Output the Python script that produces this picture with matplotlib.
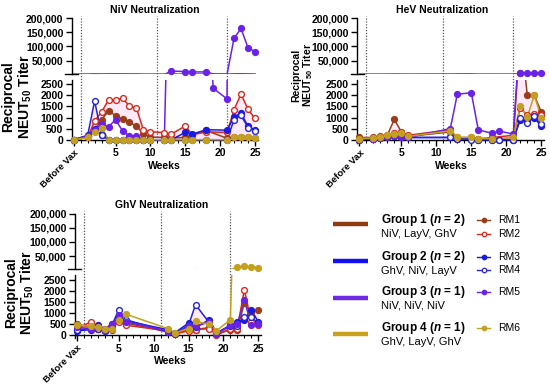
import numpy as np
import matplotlib
matplotlib.use('Agg')
import matplotlib.pyplot as plt
from matplotlib import transforms

plt.rcParams['font.family'] = ['Liberation Sans', 'DejaVu Sans']
plt.rcParams['mathtext.fontset'] = 'custom'
plt.rcParams['mathtext.rm'] = 'Liberation Sans'
plt.rcParams['mathtext.bf'] = 'Liberation Sans:bold'
plt.rcParams['mathtext.it'] = 'Liberation Sans:bold:italic'

nan = np.nan

# ---------------- data ----------------
weeks = [-1, 1, 2, 3, 4, 5, 6, 7, 8, 9, 10, 12, 13, 15, 16, 18, 19, 21, 22, 23, 24, 25]
vax_weeks = [0, 11, 21]
animals = ['RM1', 'RM2', 'RM3', 'RM4', 'RM5', 'RM6']

niv_rm1 = [0, 150, 450, 900, 1300, 1080, 930, 780, 620, 250, 120, 100, 80, 100, 230, 420, nan, 60, 100, 100, 100, 60]
niv_rm2 = [0, 100, 850, 1250, 1800, 1800, 1870, 1520, 1420, 440, 360, 320, 250, 620, 220, 350, nan, 330, 1350, 2060, 1370, 960]
niv_rm3 = [0, 150, 500, 220, 0, 0, 0, 0, 0, 0, 0, 0, 0, 330, 250, 450, nan, 430, 1030, 1200, 600, 450]
niv_rm4 = [0, 200, 1750, 200, 0, 0, 0, 0, 0, 0, 0, 0, 0, 0, 0, 0, nan, 0, 900, 1100, 550, 400]
niv_rm5 = [0, 150, 450, 700, 590, 900, 400, 170, 170, 0, 0, 0, 13000, 10500, 9500, 9500, 2320, 1840, 129000, 164000, 95600, 81500]
niv_rm6 = [0, 100, 350, 550, 0, 0, 0, 0, 0, 0, 0, 0, 0, 0, 0, 0, nan, 0, 100, 100, 100, 80]

hev_rm1 = [100, 100, 150, 200, 920, 350, 150, nan, nan, nan, nan, 350, 100, 100, 50, 50, nan, 0, 5000, 2000, 2000, 1250]
hev_rm2 = [50, 50, 100, 150, 300, 330, 200, nan, nan, nan, nan, 450, 50, 50, 30, 100, nan, 200, 1430, 1100, 1150, 1100]
hev_rm3 = [0, 50, 80, 100, 150, 100, 100, nan, nan, nan, nan, 100, 50, 50, 0, 0, 0, 0, 900, 900, 1000, 600]
hev_rm4 = [0, 50, 80, 100, 150, 120, 100, nan, nan, nan, nan, 100, 50, 0, 0, 0, 0, 0, 1000, 750, 1050, 700]
hev_rm5 = [0, 50, 60, 100, 150, 100, 100, nan, nan, nan, nan, 500, 2050, 2120, 440, 290, 390, 250, 5000, 5000, 5000, 4700]
hev_rm6 = [50, 80, 120, 200, 250, 300, 150, nan, nan, nan, nan, 400, 100, 100, 50, 50, nan, 100, 1520, 1040, 2000, 1000]

ghv_rm1 = [500, 350, 300, 250, 250, 700, 550, nan, nan, nan, nan, 150, 50, 250, 250, 350, 50, 250, 250, 1450, 1000, 1150]
ghv_rm2 = [300, 600, 300, 200, 400, 600, 450, nan, nan, nan, nan, 200, 50, 200, 250, 300, 0, 300, 300, 2050, 600, 450]
ghv_rm3 = [200, 250, 450, 300, 500, 800, 650, nan, nan, nan, nan, 250, 100, 550, 350, 700, 100, 450, 600, 700, 1150, 600]
ghv_rm4 = [250, 300, 300, 200, 450, 1150, 700, nan, nan, nan, nan, 150, 50, 450, 1380, 550, 100, 400, 400, 800, 800, 550]
ghv_rm5 = [350, 300, 350, 250, 500, 900, 600, nan, nan, nan, nan, 200, 50, 400, 400, 600, 50, 450, 500, 1600, 450, 500]
ghv_rm6 = [450, 400, 350, 300, 300, 700, 950, nan, nan, nan, nan, 300, 100, 300, 620, 500, 200, 700, 11500, 15000, 11500, 9000]

group_names = ['Group 1', 'Group 2', 'Group 3', 'Group 4']
group_n = [2, 2, 1, 1]
group_regimens = ['NiV, LayV, GhV', 'GhV, NiV, LayV', 'NiV, NiV, NiV', 'GhV, LayV, GhV']
group_members = [['RM1', 'RM2'], ['RM3', 'RM4'], ['RM5'], ['RM6']]

# ---------------- styles ----------------
group_colors = ['#8e3b12', '#1010f0', '#6d28e8', '#c9a11e']
rm_style = {
    'RM1': dict(color='#9a3d1a', mfc='#9a3d1a'),
    'RM2': dict(color='#d8281e', mfc='white'),
    'RM3': dict(color='#1a1ae0', mfc='#1a1ae0'),
    'RM4': dict(color='#2424d8', mfc='white'),
    'RM5': dict(color='#6a22e6', mfc='#6a22e6'),
    'RM6': dict(color='#c4a020', mfc='#c4a020'),
}

W, H = 550, 386
fig = plt.figure(figsize=(W / 100, H / 100), dpi=100)


def rect(left, right, top, bottom):
    return [left / W, 1 - bottom / H, (right - left) / W, (bottom - top) / H]


LO_MIN, LO_MAX = -140, 2700
UP_MIN, UP_MAX = 3000, 200000
XMIN, XMAX = -1.3, 25.4
TFS = 7.5


def style_axis(ax, fs):
    for s in ['top', 'right']:
        ax.spines[s].set_visible(False)
    for s in ['left', 'bottom']:
        ax.spines[s].set_linewidth(1.0)
    ax.tick_params(axis='both', which='major', direction='out', length=4, width=1,
                   labelsize=fs, pad=2)
    ax.tick_params(axis='both', which='minor', direction='out', length=2.5, width=0.8)
    ax.set_facecolor('none')


def panel(series, x0, pxw, yoff, title, title_x, ylab_x, ylab_y, ylab_fs, weeks_x):
    zero_lo = 139.7 + yoff
    s_lo = 0.02216
    zero_up = 74.6 + yoff
    s_up = 0.0002814
    left = x0 + XMIN * pxw
    right = x0 + XMAX * pxw
    axl = fig.add_axes(rect(left, right, zero_lo - LO_MAX * s_lo, zero_lo - LO_MIN * s_lo))
    axu = fig.add_axes(rect(left, right, zero_up - UP_MAX * s_up, zero_up - UP_MIN * s_up))
    x = np.array(weeks, float)
    for ax, lo, hi in ((axl, LO_MIN, LO_MAX), (axu, UP_MIN, UP_MAX)):
        # light group shading
        for members in group_members[:2]:
            arr = np.array([series[m] for m in members], float)
            ok = ~np.isnan(arr).any(axis=0)
            ax.fill_between(x[ok], arr[:, ok].min(axis=0), arr[:, ok].max(axis=0),
                            color='#fbd0ee', alpha=0.45, lw=0, zorder=1)
        for name in animals:
            y = np.array(series[name], float)
            m = ~np.isnan(y)
            st = rm_style[name]
            ax.plot(x[m], y[m], color=st['color'], lw=1.1, zorder=3)
            vis = m & (y >= lo) & (y <= hi)
            ax.plot(x[vis], y[vis], ls='none', marker='o', ms=4.2,
                    mfc=st['mfc'], mec=st['color'], mew=1.0, zorder=4, clip_on=False)
        ax.set_xlim(XMIN, XMAX)
        style_axis(ax, TFS)

    axu.set_ylim(UP_MIN, UP_MAX)
    axu.spines['bottom'].set_visible(False)
    axu.tick_params(axis='x', which='both', bottom=False, labelbottom=False)
    up_ticks = [50000, 100000, 150000, 200000]
    axu.set_yticks(up_ticks)
    axu.set_yticklabels([f'{t:,}' for t in up_ticks], fontweight='bold', fontsize=TFS)
    axu.plot([-0.035, 0.035], [0, 0], transform=axu.transAxes, color='black', lw=1,
             clip_on=False)

    axl.set_ylim(LO_MIN, LO_MAX)
    axl.spines['bottom'].set_position(('data', 0))
    lo_ticks = [0, 500, 1000, 1500, 2000, 2500]
    axl.set_yticks(lo_ticks)
    axl.set_yticklabels([str(t) for t in lo_ticks], fontweight='bold', fontsize=TFS)
    xt = [-1, 5, 10, 15, 20, 25]
    axl.set_xticks(xt)
    axl.set_xticks(range(0, 26), minor=True)
    axl.set_xticklabels(['Before Vax'] + [str(t) for t in xt[1:]], fontweight='bold',
                        fontsize=TFS)
    lb = axl.get_xticklabels()[0]
    lb.set_rotation(45)
    lb.set_ha('right')
    lb.set_rotation_mode('anchor')
    lb.set_fontsize(6.8)

    blend = transforms.blended_transform_factory(axl.transData, fig.transFigure)
    for v in vax_weeks:
        axl.plot([v, v], [1 - zero_lo / H, 1 - (16 + yoff) / H], transform=blend,
                 color='#555555', lw=0.9, ls=(0, (1, 1.3)), clip_on=False, zorder=2)

    fig.text(title_x / W, 1 - (10 + yoff) / H, title, ha='center', va='center',
             fontsize=7.5, fontweight='bold')
    fig.text(weeks_x / W, 1 - (166 + yoff) / H, 'Weeks', ha='center', va='center',
             fontsize=7.5, fontweight='bold')
    fig.text(ylab_x / W, 1 - ylab_y / H, 'Reciprocal\nNEUT$_{\\mathbf{50}}$ Titer',
             rotation=90, ha='center', va='center', fontsize=ylab_fs, fontweight='bold',
             linespacing=1.05, multialignment='center')


niv = dict(zip(animals, [niv_rm1, niv_rm2, niv_rm3, niv_rm4, niv_rm5, niv_rm6]))
hev = dict(zip(animals, [hev_rm1, hev_rm2, hev_rm3, hev_rm4, hev_rm5, hev_rm6]))
ghv = dict(zip(animals, [ghv_rm1, ghv_rm2, ghv_rm3, ghv_rm4, ghv_rm5, ghv_rm6]))

panel(niv, 80.7, 6.97, 0, 'NiV Neutralization', 155, 17.5, 97, 10, 164.5)
panel(hev, 366.3, 7.0, 0, 'HeV Neutralization', 442, 303, 75, 7.5, 451)
panel(ghv, 84.0, 6.97, 195.5, 'GhV Neutralization', 162, 20, 293, 10, 170)

# ---------------- legend ----------------
lg = fig.add_axes([0, 0, 1, 1])
lg.set_xlim(0, W)
lg.set_ylim(H, 0)
lg.axis('off')

grp_line_y = [224.3, 261.3, 297.7, 334.3]
grp_text_y = [220, 256.7, 291.7, 328.3]
rm_y = {'RM1': 220, 'RM2': 234.3, 'RM3': 256.7, 'RM4': 270, 'RM5': 291.7, 'RM6': 328.3}

for i in range(4):
    lg.plot([333, 368], [grp_line_y[i]] * 2, color=group_colors[i], lw=3.2,
            solid_capstyle='butt')
    lg.text(381, grp_text_y[i], f'{group_names[i]} ($\\mathit{{n}}$ = {group_n[i]})',
            fontsize=8.5, fontweight='bold', va='center', ha='left')
    lg.text(381, grp_text_y[i] + 13.8, group_regimens[i], fontsize=8, va='center',
            ha='left')

for name in animals:
    st = rm_style[name]
    lg.plot([477, 490], [rm_y[name]] * 2, color=st['color'], lw=1.0)
    lg.plot([483.5], [rm_y[name]], marker='o', ms=3.2, mfc=st['mfc'], mec=st['color'],
            mew=0.9, color=st['color'])
    lg.text(498, rm_y[name], name, fontsize=7.5, va='center', ha='left')

fig.savefig('out.png', dpi=100)
